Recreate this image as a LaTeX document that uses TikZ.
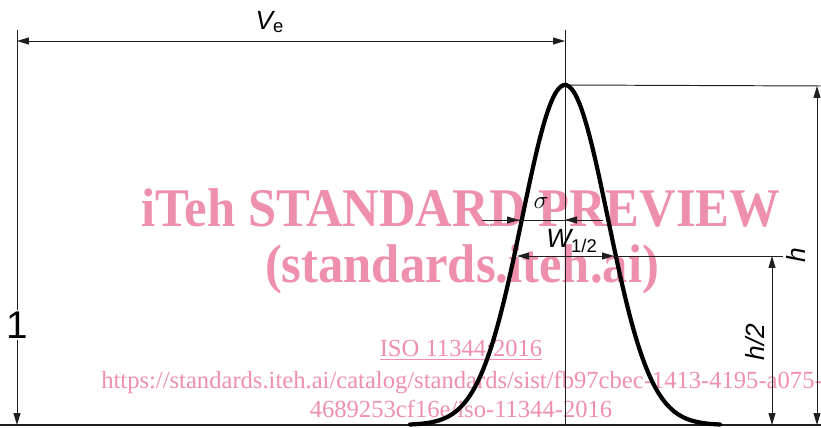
\documentclass[tikz,border=0pt]{standalone}
\usepackage{fontspec}
\setmainfont{Liberation Serif}
\setsansfont{Liberation Sans}
\usepackage{tikz}
\usetikzlibrary{arrows.meta,positioning,calc}
\definecolor{dimink}{RGB}{30,30,30}
\definecolor{wmpink}{RGB}{238,143,172}
\tikzset{
  dimline/.style={draw=dimink, line width=0.55pt},
  dimarr/.style={dimline, -{Triangle[length=2.4mm,width=1.4mm]}},
  dimboth/.style={dimline, {Triangle[length=2.4mm,width=1.4mm]}-{Triangle[length=2.4mm,width=1.4mm]}},
  peak/.style={draw=black, line width=2.4pt, line cap=round},
  dimlab/.style={font=\sffamily\itshape\fontsize{15}{15}\selectfont, inner sep=1pt},
  wmbig/.style={text=wmpink, font=\rmfamily\bfseries\fontsize{31}{31}\selectfont, inner sep=0pt},
  wmsmall/.style={text=wmpink, font=\rmfamily\fontsize{14}{14}\selectfont, inner sep=0pt}
}
\newcommand{\wmsq}[1]{\scalebox{0.93}[1]{#1}}
\begin{document}
\begin{tikzpicture}[x=0.02cm,y=-0.02cm]
  \useasboundingbox (0,0) rectangle (821,428);
  % key points
  \coordinate (top) at (565,85);
  \coordinate (foot) at (565,425);
  \coordinate (lefttop) at (17,30);
  \coordinate (leftfoot) at (17,425);
  % watermark
  \node[wmbig, anchor=base] (wm1) at (461,227) {\wmsq{iTeh STANDARD PREVIEW}};
  \node[wmbig, anchor=base] (wm2) at (462,283) {\wmsq{(standards.iteh.ai)}};
  \node[wmsmall, anchor=base] (wm3) at (461,357) {\underline{ISO 11344:2016}};
  \node[wmsmall, anchor=base east] (wm4) at (823,389)
    {https://standards.iteh.ai/catalog/standards/sist/fb97cbec-1413-4195-a075-};
  \node[wmsmall, anchor=base] (wm5) at (461,418) {4689253cf16e/iso-11344-2016};
  % base and centre lines
  \draw[draw=dimink, line width=1.1pt] (0,425) -- (821,425);
  \draw[dimline] (565,30) -- (foot);
  \draw[dimline] (top) -- (821,86);
  % peak
  \draw[peak, domain=410:720, samples=120, smooth]
    plot (\x, {425-340*exp(-((\x-565)/43)^2/2)});
  % V_e
  \draw[dimboth] (17,41) -- (565,41);
  \node[dimlab] (ve) at (270,22) {V\textsubscript{\upshape e}};
  % 1
  \node[font=\sffamily\fontsize{22}{22}\selectfont, fill=white, inner sep=1pt] (one) at (17,325) {1};
  \draw[dimline] (lefttop) -- (one.north);
  \draw[dimarr] (one.south) -- (leftfoot);
  % h
  \draw[dimboth] (817,86) -- (817,425);
  \node[dimlab, rotate=90] (hlab) at (796,255) {h};
  % h/2
  \draw[dimline] (613,256) -- (783,256);
  \draw[dimboth] (772,256) -- (772,425);
  \node[dimlab, rotate=90] (h2lab) at (755,342) {h/2};
  % W1/2
  \draw[dimboth] (517,256) -- (614,256);
  \node[dimlab] (wlab) at (572,241) {W\textsubscript{\upshape 1/2}};
  % sigma
  \draw[dimline] (482,220) -- (603,220);
  \draw[dimarr] (485,220) -- (519,220);
  \draw[dimarr] (600,220) -- (565,220);
  \node[dimlab] (slab) at (541,203) {$\sigma$};
\end{tikzpicture}
\end{document}
